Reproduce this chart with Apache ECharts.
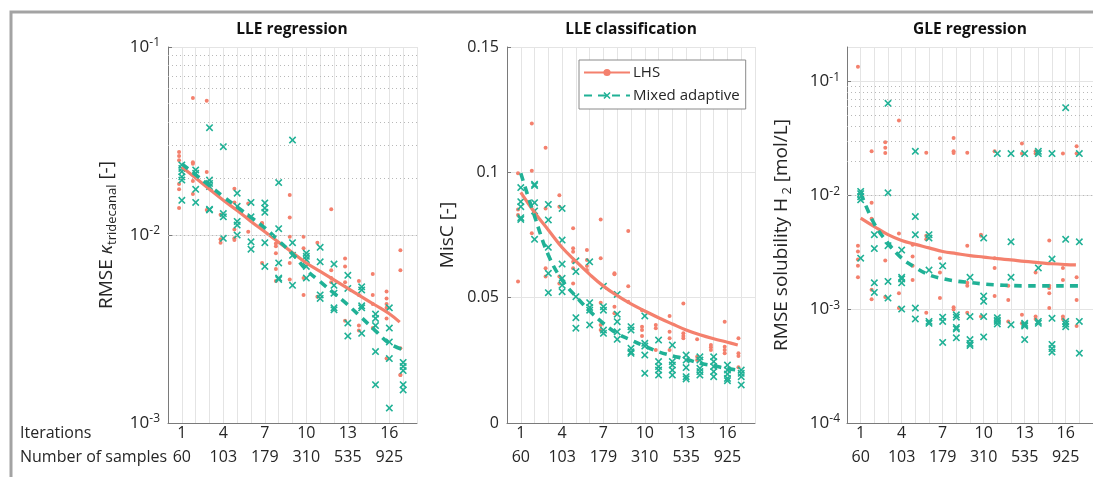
<!DOCTYPE html>
<html>
<head>
<meta charset="utf-8">
<script src="https://cdn.jsdelivr.net/npm/echarts@6/dist/echarts.min.js"></script>
<style>
html,body{margin:0;padding:0;background:#fff;}
#main{width:1093px;height:477px;}
</style>
</head>
<body>
<div id="main"></div>
<script>
// 横轴标签: 迭代次数和样本数
var iterLabels=[1,4,7,10,13,16];
var sampleLabels=[60,103,179,310,535,925];
var lhsCurveIter=[1,2,3,4,5,6,7,8,9,10,11,12,13,14,15,16,16.75];
var mixCurveIter=[1,2,3,4,5,6,7,8,9,10,11,12,13,14,15,16,17];
var minorTicksLle=[0.002,0.003,0.004,0.005,0.006,0.007,0.008,0.009,0.02,0.03,0.04,0.05,0.06,0.07,0.08,0.09];
var minorTicksGle=[0.0002,0.0003,0.0004,0.0005,0.0006,0.0007,0.0008,0.0009,0.002,0.003,0.004,0.005,0.006,0.007,0.008,0.009,
    0.02,0.03,0.04,0.05,0.06,0.07,0.08,0.09];

// LLE regression, 每次迭代的点
var lleRegLhsPts=[
    [0.0276,0.0263,0.0250,0.0187,0.0175,0.0139],
    [0.0536,0.0244,0.0239,0.0194,0.0165],
    [0.0517,0.0216,0.0190,0.0136],
    [0.0128,0.0095,0.0091],
    [0.0176,0.0149,0.0107,0.0096,0.0094],
    [0.0147,0.0125,0.0104],
    [0.0116,0.0115,0.0112,0.0071],
    [0.0090,0.0087,0.0080,0.0066,0.0057],
    [0.0163,0.0124,0.0098,0.0071,0.0058],
    [0.0098,0.0085,0.0059,0.0048],
    [0.0091,0.0047],
    [0.0137,0.0065,0.0059,0.0056],
    [0.0075,0.0068,0.0056,0.0035],
    [0.0057,0.0048,0.0033,0.0031],
    [0.0062,0.0048,0.0043,0.0032],
    [0.0050,0.0046,0.0043,0.0041,0.0036,0.0022],
    [0.0083,0.0065,0.0025,0.0018,0.0018]
];
var lleRegMixPts=[
    [0.0236,0.0226,0.0217,0.0204,0.0196,0.0153],
    [0.0222,0.0213,0.0175,0.0149],
    [0.0372,0.0196,0.0188,0.0181,0.0137,0.0136],
    [0.0295,0.0130,0.0125,0.0096],
    [0.0167,0.0142,0.0118,0.0113,0.0100],
    [0.0149,0.0125,0.0092,0.0084],
    [0.0148,0.0139,0.0132,0.0091,0.0068],
    [0.0190,0.0108,0.0071,0.0059,0.0058],
    [0.0320,0.0091,0.0078,0.0054],
    [0.0080,0.0077,0.0074,0.0068,0.0059],
    [0.0086,0.0072,0.0048,0.0046],
    [0.0070,0.0054,0.0049,0.0041,0.0040],
    [0.0061,0.0052,0.0034,0.0029],
    [0.0053,0.0051,0.0042,0.0041,0.0030],
    [0.0038,0.0036,0.0033,0.0024,0.0016],
    [0.0041,0.0032,0.0027,0.0022,0.0012],
    [0.0021,0.0020,0.0019,0.0016,0.0015]
];
var lleRegLhsCurve=[0.0230,0.0201,0.0175,0.0153,0.0135,0.0118,0.0104,0.00916,0.00805,0.00710,0.00640,0.00577,0.00520,0.00469,0.00423,0.00381,0.00344];
var lleRegMixCurve=[0.0239,0.0209,0.0183,0.0160,0.0141,0.0124,0.0109,0.00933,0.00794,0.00652,0.00565,0.00490,0.00425,0.00363,0.00309,0.00265,0.00245];

// LLE classification
var lleClsLhsPts=[
    [0.0996,0.0852,0.0830,0.0564],
    [0.1195,0.1006,0.0757],
    [0.1098,0.0856,0.0617,0.0584],
    [0.0909,0.0863,0.0584,0.0557],
    [0.0777,0.0697,0.0683,0.0643,0.0617,0.0557],
    [0.0690,0.0650,0.0626,0.0610],
    [0.0812,0.0657,0.0480,0.0391,0.0371],
    [0.0597,0.0593,0.0464,0.0438],
    [0.0766,0.0546,0.0484],
    [0.0450,0.0384,0.0371,0.0347],
    [0.0391,0.0378,0.0291],
    [0.0427,0.0364,0.0338,0.0291],
    [0.0477,0.0358,0.0347,0.0338],
    [0.0334,0.0264,0.0251],
    [0.0311,0.0302,0.0291],
    [0.0404,0.0304,0.0291,0.0278],
    [0.0338,0.0278,0.0267,0.0222]
];
var lleClsMixPts=[
    [0.0939,0.0883,0.0863,0.0819,0.0812],
    [0.0952,0.0947,0.0879,0.0846,0.0733],
    [0.0872,0.0810,0.0701,0.0597,0.0520],
    [0.0856,0.0730,0.0634,0.0577,0.0550,0.0524],
    [0.0647,0.0604,0.0504,0.0420,0.0378],
    [0.0643,0.0480,0.0461,0.0450,0.0391],
    [0.0546,0.0464,0.0450,0.0371,0.0358],
    [0.0513,0.0434,0.0404,0.0364,0.0334],
    [0.0384,0.0371,0.0298,0.0284,0.0278],
    [0.0427,0.0318,0.0307,0.0271,0.0198],
    [0.0331,0.0245,0.0225,0.0211,0.0191],
    [0.0311,0.0245,0.0231,0.0211,0.0191],
    [0.0271,0.0251,0.0221,0.0185,0.0176],
    [0.0264,0.0251,0.0218,0.0205,0.0191],
    [0.0264,0.0245,0.0225,0.0205,0.0185],
    [0.0231,0.0211,0.0195,0.0178,0.0169],
    [0.0211,0.0198,0.0185,0.0152]
];
var lleClsLhsCurve=[0.092,0.084,0.077,0.070,0.0645,0.0593,0.0546,0.0508,0.0475,0.0447,0.0420,0.0395,0.0371,0.0352,0.0336,0.0322,0.0311];
var lleClsMixCurve=[0.0996,0.0825,0.067,0.057,0.0505,0.0447,0.0397,0.0357,0.0331,0.0306,0.0284,0.0268,0.0255,0.0238,0.0228,0.0217,0.0209];

// GLE regression
var gleLhsPts=[
    [0.134,0.0036,0.0032,0.00272,0.0024,0.0019],
    [0.0243,0.0086,0.0062,0.00148,0.00122],
    [0.0292,0.0261,0.0235,0.00267,0.00128],
    [0.0453,0.0046,0.00138,0.00102],
    [0.00368,0.0029,0.0024,0.0018],
    [0.0236,0.0044,0.0041,0.00093],
    [0.0028,0.0021,0.00125],
    [0.0317,0.0243,0.0235,0.00104,0.00099],
    [0.0236,0.0036,0.0017,0.0016,0.00093],
    [0.0045,0.0044,0.00086],
    [0.0243,0.0028,0.0023,0.0013],
    [0.0016,0.0012,0.00078],
    [0.0284,0.0232,0.00089,0.00075],
    [0.0243,0.0232,0.0021,0.00086,0.00082],
    [0.0040,0.0016,0.00153,0.00138,0.00102],
    [0.0232,0.0023,0.0018,0.00086,0.00082],
    [0.0269,0.0232,0.0019,0.0012,0.00071]
];
var gleMixPts=[
    [0.0108,0.0103,0.0097,0.0091,0.0028],
    [0.0045,0.0034,0.0017,0.0014],
    [0.064,0.0105,0.0036,0.00175,0.00125],
    [0.0033,0.0019,0.00184,0.0017,0.0010],
    [0.0243,0.0065,0.0045,0.00102,0.00082],
    [0.0045,0.0042,0.0022,0.00078,0.00075],
    [0.0024,0.00085,0.00078,0.00051],
    [0.00089,0.00085,0.00069,0.00067,0.00056],
    [0.0019,0.00086,0.00054,0.0005,0.00048],
    [0.0042,0.0013,0.00117,0.00086,0.00057],
    [0.0232,0.00084,0.0008,0.00078,0.00074],
    [0.0232,0.0039,0.0019,0.00073],
    [0.0232,0.00075,0.00073,0.00071,0.00054],
    [0.0232,0.0243,0.0023,0.00078,0.00075],
    [0.0232,0.00275,0.00083,0.00049,0.00045,0.00042],
    [0.0586,0.0041,0.00078,0.00074,0.0007],
    [0.0232,0.0039,0.00078,0.00041]
];
var gleLhsCurve=[0.0063,0.0053,0.0045,0.0040,0.0037,0.00345,0.0032,0.00307,0.00295,0.00286,0.00277,0.0027,0.00262,0.00256,0.0025,0.00246,0.00244];
var gleMixCurve=[0.0105,0.0056,0.0038,0.0028,0.00232,0.0020,0.00185,0.00176,0.00171,0.00166,0.00163,0.00161,0.0016,0.0016,0.0016,0.0016,0.0016];

var FONT='"Open Sans", "DejaVu Sans", sans-serif';
var TXT='#262626';
var LHS_COLOR='#f4806d';
var MIX_COLOR='#20b196';
var AXIS_COLOR='#7a7a7a';
var GRID_COLOR='#e4e4e4';
var X_MARK='path://M0,1.5L1.5,0L5,3.5L8.5,0L10,1.5L6.5,5L10,8.5L8.5,10L5,6.5L1.5,10L0,8.5L3.5,5Z';

//把每次迭代的数值展开成散点
function toPoints(groups,shift){
    var pts=[];
    groups.forEach(function(g,k){
        g.forEach(function(v){ pts.push([k+1+shift,v]); });
    });
    return pts;
}
function zip(xs,ys){
    return xs.map(function(x,k){ return [x,ys[k]]; });
}

function makeXAxis(idx){
    return {
        type:'value', gridIndex:idx, min:0, max:18, interval:1,
        axisLine:{show:true,lineStyle:{color:AXIS_COLOR,width:1}},
        axisTick:{show:false},
        splitLine:{show:true,lineStyle:{color:GRID_COLOR,width:1}},
        axisLabel:{
            margin:-2,
            showMinLabel:false, showMaxLabel:false,
            formatter:function(v){
                var k=iterLabels.indexOf(v);
                if(k<0) return '';
                return '{a|'+v+'}\n{a|'+sampleLabels[k]+'}';
            },
            rich:{a:{fontSize:16,lineHeight:24,color:TXT,fontFamily:FONT}}
        }
    };
}

function logLabel(v){
    return '{b|10}{s|'+Math.round(Math.log10(v))+'}';
}
var logRich={
    b:{fontSize:17,lineHeight:20,color:TXT,fontFamily:FONT},
    s:{fontSize:12,lineHeight:12,verticalAlign:'top',color:TXT,fontFamily:FONT}
};
var nameRich={
    n:{fontSize:19,lineHeight:24,color:TXT,fontFamily:FONT},
    k:{fontSize:19,lineHeight:24,color:TXT,fontFamily:FONT,fontStyle:'italic'},
    s:{fontSize:13,lineHeight:14,verticalAlign:'bottom',color:TXT,fontFamily:FONT}
};

function minorLines(ticks){
    return {
        silent:true, symbol:['none','none'], label:{show:false},
        lineStyle:{type:[1,3],color:'#b8b8b8',width:1},
        emphasis:{disabled:true},
        data:ticks.map(function(v){ return {yAxis:v}; })
    };
}

function scatterSeries(idx,pts,isLhs,minor){
    var s={
        type:'scatter', xAxisIndex:idx, yAxisIndex:idx, z:2,
        name:isLhs?'LHS runs':'Mixed runs',
        data:pts,
        symbol:isLhs?'circle':X_MARK,
        symbolSize:isLhs?4:7.5,
        itemStyle:{color:isLhs?LHS_COLOR:MIX_COLOR,opacity:1},
        silent:true
    };
    if(minor) s.markLine=minorLines(minor);
    return s;
}
function curveSeries(idx,xs,ys,isLhs){
    return {
        type:'line', xAxisIndex:idx, yAxisIndex:idx, z:4,
        name:isLhs?'LHS':'Mixed adaptive',
        data:zip(xs,ys),
        smooth:0.4, showSymbol:false,
        symbol:isLhs?'circle':X_MARK,
        lineStyle:{color:isLhs?LHS_COLOR:MIX_COLOR,width:isLhs?3.2:3.6,type:isLhs?'solid':[8,6]},
        itemStyle:{color:isLhs?LHS_COLOR:MIX_COLOR},
        silent:true
    };
}

var myChart=echarts.init(document.getElementById('main'),null,{renderer:'canvas'});
var option={
    animation:false,
    backgroundColor:'#fff',
    textStyle:{fontFamily:FONT},
    grid:[
        {left:168,top:47,width:249,height:376},
        {left:507,top:47,width:248,height:376},
        {left:847,top:47,width:248,height:376}
    ],
    xAxis:[makeXAxis(0),makeXAxis(1),makeXAxis(2)],
    yAxis:[
        {
            type:'log', gridIndex:0, logBase:10, min:0.001, max:0.1,
            axisLine:{show:true,lineStyle:{color:AXIS_COLOR}},
            axisTick:{show:true,inside:true,length:4,lineStyle:{color:AXIS_COLOR}},
            splitLine:{show:true,lineStyle:{color:GRID_COLOR}},
            axisLabel:{margin:8,formatter:logLabel,rich:logRich},
            name:'{n|RMSE }{k|κ}{s|tridecanal}{n| [-]}',
            nameLocation:'middle', nameGap:49, nameRotate:90,
            nameTextStyle:{rich:nameRich}
        },
        {
            type:'value', gridIndex:1, min:0, max:0.15, interval:0.05,
            axisLine:{show:true,lineStyle:{color:AXIS_COLOR}},
            axisTick:{show:true,inside:true,length:4,lineStyle:{color:AXIS_COLOR}},
            splitLine:{show:true,lineStyle:{color:GRID_COLOR}},
            axisLabel:{margin:8,fontSize:16,color:TXT,fontFamily:FONT},
            name:'{n|MisC [-]}',
            nameLocation:'middle', nameGap:47, nameRotate:90,
            nameTextStyle:{rich:nameRich}
        },
        {
            type:'log', gridIndex:2, logBase:10, min:0.0001, max:0.2,
            axisLine:{show:true,lineStyle:{color:AXIS_COLOR}},
            axisTick:{show:true,inside:true,length:4,lineStyle:{color:AXIS_COLOR}},
            splitLine:{show:true,lineStyle:{color:GRID_COLOR}},
            axisLabel:{margin:7,showMaxLabel:false,formatter:logLabel,rich:logRich},
            name:'{n|RMSE solubility H}{s| 2}{n| [mol/L]}',
            nameLocation:'middle', nameGap:53, nameRotate:90,
            nameTextStyle:{rich:nameRich}
        }
    ],
    legend:{
        data:['LHS','Mixed adaptive'],
        orient:'vertical', left:579, top:60,
        itemWidth:46, itemHeight:9, itemGap:8,
        padding:[5,6,6,4],
        backgroundColor:'#fff', borderColor:'#8a8a8a', borderWidth:1,
        selectedMode:false,
        textStyle:{fontSize:15,color:TXT,fontFamily:FONT,padding:[0,0,0,-2]}
    },
    graphic:[
        {type:'rect',silent:true,z:-10,shape:{x:11,y:12,width:1100,height:500},style:{fill:'none',stroke:'#a3a3a3',lineWidth:3}},
        {type:'text',x:292,y:30,style:{text:'LLE regression',align:'center',verticalAlign:'middle',fontSize:15.5,fontWeight:'bold',fontFamily:FONT,fill:'#111'}},
        {type:'text',x:631,y:30,style:{text:'LLE classification',align:'center',verticalAlign:'middle',fontSize:15.5,fontWeight:'bold',fontFamily:FONT,fill:'#111'}},
        {type:'text',x:970,y:30,style:{text:'GLE regression',align:'center',verticalAlign:'middle',fontSize:15.5,fontWeight:'bold',fontFamily:FONT,fill:'#111'}},
        {type:'text',x:20,y:433,style:{text:'Iterations',align:'left',verticalAlign:'middle',fontSize:16,fontFamily:FONT,fill:TXT}},
        {type:'text',x:20,y:457,style:{text:'Number of samples',align:'left',verticalAlign:'middle',fontSize:16,fontFamily:FONT,fill:TXT}}
    ],
    series:[
        scatterSeries(0,toPoints(lleRegLhsPts,-0.2),true,minorTicksLle),
        scatterSeries(0,toPoints(lleRegMixPts,0),false),
        curveSeries(0,lhsCurveIter,lleRegLhsCurve,true),
        curveSeries(0,mixCurveIter,lleRegMixCurve,false),

        scatterSeries(1,toPoints(lleClsLhsPts,-0.2),true),
        scatterSeries(1,toPoints(lleClsMixPts,0),false),
        curveSeries(1,lhsCurveIter,lleClsLhsCurve,true),
        curveSeries(1,mixCurveIter,lleClsMixCurve,false),

        scatterSeries(2,toPoints(gleLhsPts,-0.2),true,minorTicksGle),
        scatterSeries(2,toPoints(gleMixPts,0),false),
        curveSeries(2,lhsCurveIter,gleLhsCurve,true),
        curveSeries(2,mixCurveIter,gleMixCurve,false)
    ]
};
myChart.setOption(option);
</script>
</body>
</html>
